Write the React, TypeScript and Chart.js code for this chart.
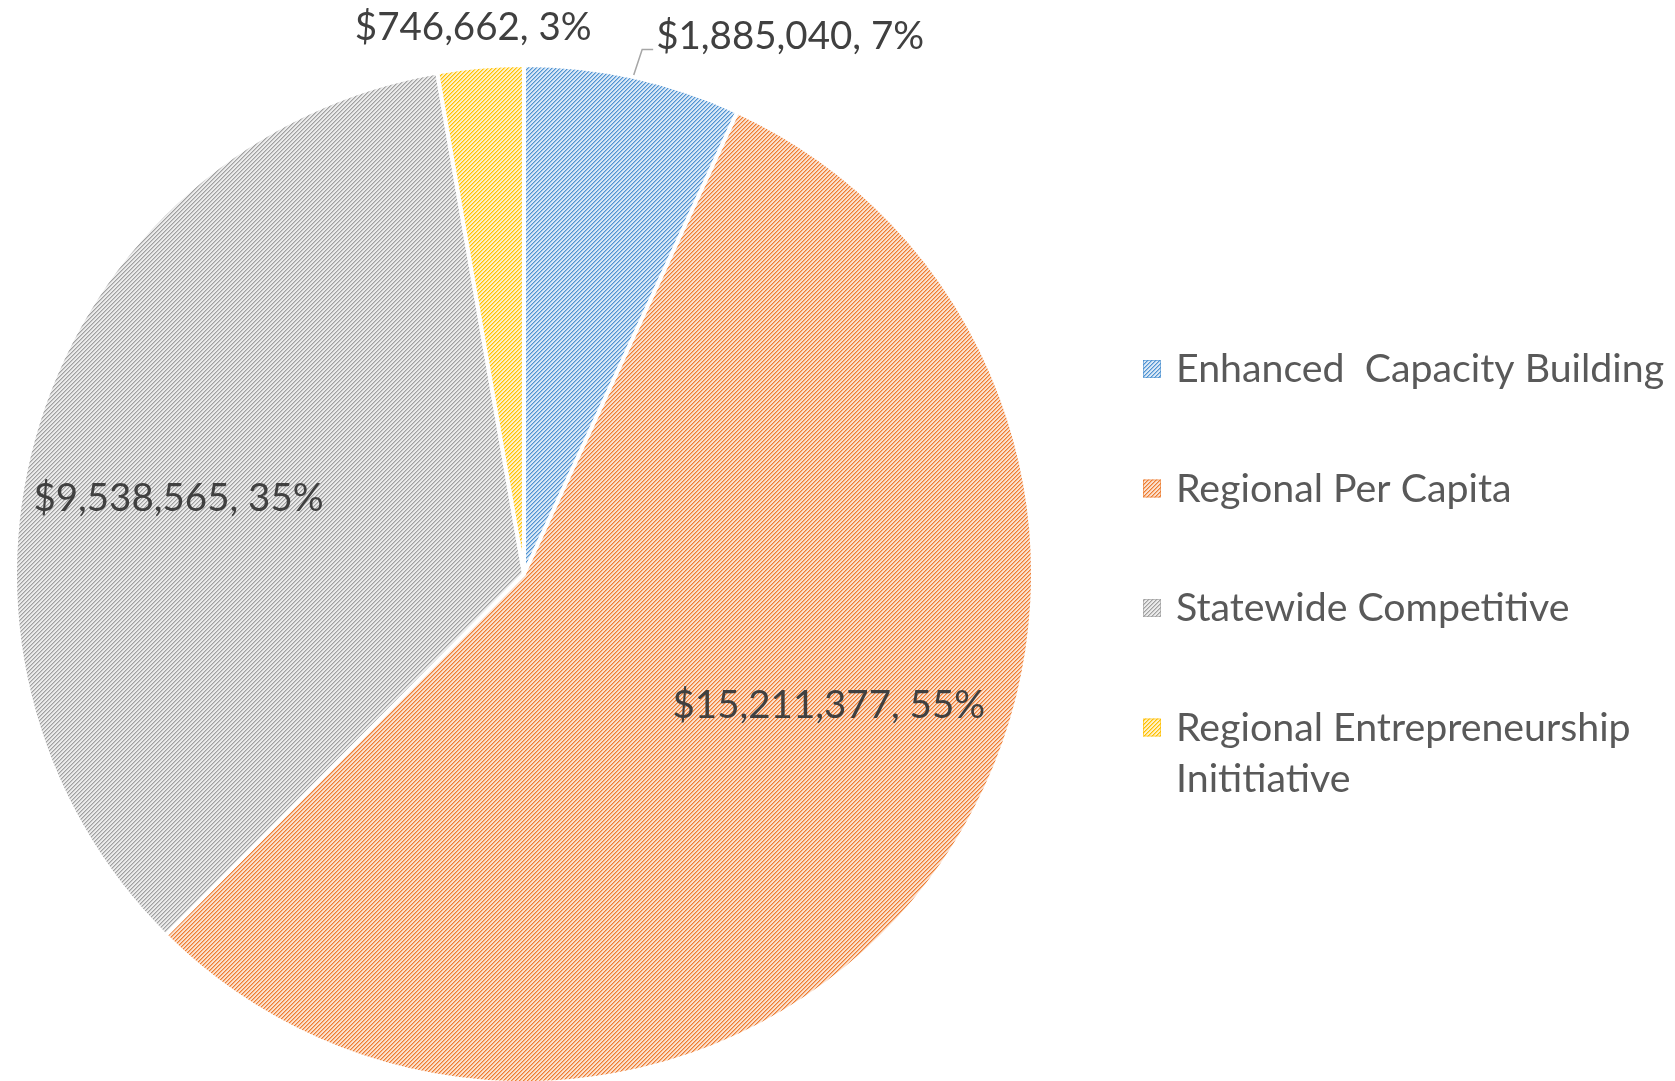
import React, { useEffect, useRef } from "react";
import { Chart, registerables } from "chart.js";

Chart.register(...registerables);

// ---- data ----
const categories = [
  "Enhanced  Capacity Building",
  "Regional Per Capita",
  "Statewide Competitive",
  "Regional Entrepreneurship Inititiative",
];
const legendLines = [
  ["Enhanced  Capacity Building"],
  ["Regional Per Capita"],
  ["Statewide Competitive"],
  ["Regional Entrepreneurship", "Inititiative"],
];
const values = [1885040, 15211377, 9538565, 746662];
const percentLabels = ["7%", "55%", "35%", "3%"];

// ---- styles ----
const darkColors = ["#4F93D2", "#ED7D31", "#A0A0A0", "#FFC000"];
const lightColors = ["#DAE8F6", "#FBE0CE", "#EBEBEB", "#FFF1C8"];
// label placement: polar (degrees from +x, clockwise) and radius factor
const labelPolar = [
  { a: -63.7, r: 1.18 },
  { a: 23.3, r: 0.652 },
  { a: -167.6, r: 0.695 },
  { a: -95.3, r: 1.08 },
];
const FONT = "Lato, 'Open Sans', sans-serif";

function mix(a: string, b: string, t: number) {
  const pa = [1, 3, 5].map((k) => parseInt(a.slice(k, k + 2), 16));
  const pb = [1, 3, 5].map((k) => parseInt(b.slice(k, k + 2), 16));
  const m = pa.map((v, i) => Math.round(v * (1 - t) + pb[i] * t));
  return `rgb(${m[0]},${m[1]},${m[2]})`;
}

function makePattern(dark: string, light: string): CanvasPattern | string {
  const c = document.createElement("canvas");
  c.width = 4;
  c.height = 4;
  const g = c.getContext("2d");
  if (!g) return dark;
  g.fillStyle = light;
  g.fillRect(0, 0, 4, 4);
  for (let x = 0; x < 4; x++) {
    for (let y = 0; y < 4; y++) {
      const k = (x + y) % 4;
      if (k === 3) {
        g.fillStyle = dark;
        g.fillRect(x, y, 1, 1);
      } else if (k === 0) {
        g.fillStyle = mix(light, dark, 0.45);
        g.fillRect(x, y, 1, 1);
      }
    }
  }
  const p = g.createPattern(c, "repeat");
  return p || dark;
}

function fmtMoney(v: number) {
  return "$" + v.toLocaleString("en-US");
}

export default function App() {
  const ref = useRef<HTMLCanvasElement | null>(null);

  useEffect(() => {
    document.body.style.margin = "0";
    const canvas = ref.current;
    if (!canvas) return;
    const patterns = darkColors.map((d, i) => makePattern(d, lightColors[i]));

    const overlay = {
      id: "overlay",
      afterDatasetsDraw(chart: any) {
        const ctx = chart.ctx as CanvasRenderingContext2D;
        const meta = chart.getDatasetMeta(0);
        ctx.save();
        // data labels
        ctx.font = `38.5px ${FONT}`;
        ctx.fillStyle = "#404040";
        ctx.textAlign = "center";
        ctx.textBaseline = "alphabetic";
        meta.data.forEach((arc: any, i: number) => {
          const { x, y, outerRadius } = arc.getProps(["x", "y", "outerRadius"], true);
          const lp = labelPolar[i];
          const ang = (lp.a * Math.PI) / 180;
          const lx = x + Math.cos(ang) * outerRadius * lp.r;
          const ly = y + Math.sin(ang) * outerRadius * lp.r;
          const text = `${fmtMoney(values[i])}, ${percentLabels[i]}`;
          ctx.fillText(text, lx, ly + 13);
          if (i === 0) {
            // leader line from slice edge to the label
            const w = ctx.measureText(text).width;
            const ea = (-77.6 * Math.PI) / 180;
            const ex = x + Math.cos(ea) * (outerRadius + 2);
            const ey = y + Math.sin(ea) * (outerRadius + 2);
            const endX = lx - w / 2 - 3;
            const endY = ly + 14;
            ctx.strokeStyle = "#A6A6A6";
            ctx.lineWidth = 1.5;
            ctx.beginPath();
            ctx.moveTo(ex, ey);
            ctx.lineTo(endX - 11, endY);
            ctx.lineTo(endX, endY);
            ctx.stroke();
          }
        });

        // legend
        const cy = meta.data[0].y;
        const lineH = 51.5;
        const gap = 68;
        const total =
          legendLines.reduce((s, l) => s + l.length * lineH, 0) + (legendLines.length - 1) * gap;
        let top = cy - total / 2;
        const sx = 1143;
        const tx = 1176;
        ctx.font = `39.3px ${FONT}`;
        ctx.textAlign = "left";
        legendLines.forEach((lines, i) => {
          const c0 = top + lineH / 2;
          ctx.fillStyle = patterns[i] as any;
          ctx.fillRect(sx, c0 - 9, 18, 18);
          ctx.strokeStyle = darkColors[i];
          ctx.globalAlpha = 0.6;
          ctx.lineWidth = 1;
          ctx.strokeRect(sx + 0.5, c0 - 8.5, 17, 17);
          ctx.globalAlpha = 1;
          ctx.fillStyle = "#595959";
          lines.forEach((t, j) => {
            ctx.fillText(t, tx, c0 + j * lineH + 13);
          });
          top += lines.length * lineH + gap;
        });
        ctx.restore();
      },
    };

    const chart = new Chart(canvas, {
      type: "pie",
      data: {
        labels: categories,
        datasets: [
          {
            data: values,
            backgroundColor: patterns as any,
            borderColor: "#FFFFFF",
            borderWidth: 4,
          },
        ],
      },
      options: {
        animation: false,
        responsive: false,
        radius: 509,
        layout: { padding: { left: 0, right: 627, top: 67, bottom: 0 } },
        plugins: {
          legend: { display: false },
          tooltip: { enabled: false },
        },
      } as any,
      plugins: [overlay],
    });
    return () => chart.destroy();
  }, []);

  return (
    <div style={{ width: 1675, height: 1081, background: "#fff" }}>
      <canvas ref={ref} width={1675} height={1081} style={{ display: "block" }} />
    </div>
  );
}
